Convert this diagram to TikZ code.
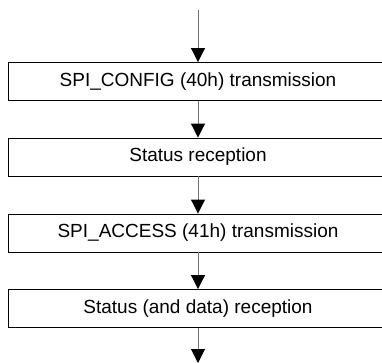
\documentclass[tikz,border=0pt]{standalone}
\usepackage{fontspec}
\setmainfont{Liberation Sans}
\usetikzlibrary{arrows.meta}
\begin{document}
\begin{tikzpicture}[x=1pt,y=-1pt,
  stepbox/.style={draw=black,line width=0.9pt,minimum width=380pt,minimum height=38pt,inner sep=0pt,font=\fontsize{19}{22}\selectfont},
  flow/.style={draw=black!55,line width=1pt,-{Triangle[width=14pt,length=14pt,black]},shorten >=0pt}]
\clip (0,0) rectangle (382,363);
\fill[white] (0,0) rectangle (382,363);
\coordinate (top) at (198,10);
\coordinate (bot) at (198,363);
\node[stepbox] (b1) at (198,81.5) {SPI\_CONFIG (40h) transmission};
\node[stepbox] (b2) at (198,157) {Status reception};
\node[stepbox] (b3) at (198,233) {SPI\_ACCESS (41h) transmission};
\node[stepbox] (b4) at (198,308.5) {Status (and data) reception};
\draw[flow] (top) -- (top |- b1.north);
\draw[flow] (b1.south -| top) -- (b2.north -| top);
\draw[flow] (b2.south -| top) -- (b3.north -| top);
\draw[flow] (b3.south -| top) -- (b4.north -| top);
\draw[flow] (b4.south -| top) -- (bot);
\end{tikzpicture}
\end{document}
